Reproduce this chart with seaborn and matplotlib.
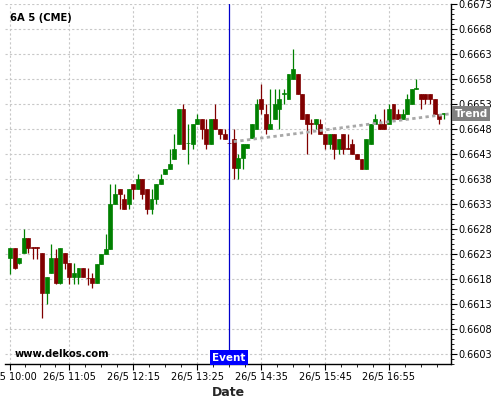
import numpy as np
import pandas as pd
import seaborn as sns
import matplotlib.pyplot as plt
from matplotlib.ticker import FixedLocator, MultipleLocator
from matplotlib.transforms import blended_transform_factory

sns.set_theme(style="white")
plt.rcParams['font.family'] = ['DejaVu Sans']

# 5-minute bars of 6A (CME), 26/5 from 10:00
opens = [0.66221, 0.66241, 0.66212, 0.66232, 0.66261, 0.66243, 0.66243, 0.66232, 0.66152, 0.66192,
         0.66221, 0.66171, 0.66232, 0.66212, 0.66183, 0.66183, 0.66201, 0.66182, 0.66182, 0.66172,
         0.66210, 0.66230, 0.66240, 0.66330, 0.66360, 0.66340, 0.66330, 0.66370, 0.66360, 0.66380,
         0.66360, 0.66320, 0.66340, 0.66370, 0.66390, 0.66400, 0.66420, 0.66450, 0.66520, 0.66452,
         0.66450, 0.66490, 0.66500, 0.66480, 0.66450, 0.66500, 0.66480, 0.66470, 0.66453, 0.66460,
         0.66402, 0.66422, 0.66442, 0.66462, 0.66480, 0.66540, 0.66510, 0.66480, 0.66500, 0.66520,
         0.66551, 0.66541, 0.66580, 0.66590, 0.66551, 0.66510, 0.66492, 0.66491, 0.66490, 0.66470,
         0.66450, 0.66470, 0.66440, 0.66470, 0.66442, 0.66450, 0.66430, 0.66420, 0.66400, 0.66450,
         0.66490, 0.66490, 0.66490, 0.66490, 0.66530, 0.66510, 0.66500, 0.66510, 0.66530, 0.66561,
         0.66550, 0.66550, 0.66550, 0.66540, 0.66510, 0.66511]
highs = [0.66241, 0.66241, 0.66221, 0.66280, 0.66261, 0.66243, 0.66243, 0.66232, 0.66183, 0.66250,
         0.66240, 0.66241, 0.66232, 0.66212, 0.66212, 0.66201, 0.66201, 0.66201, 0.66191, 0.66210,
         0.66230, 0.66270, 0.66370, 0.66370, 0.66360, 0.66350, 0.66360, 0.66370, 0.66390, 0.66380,
         0.66360, 0.66360, 0.66370, 0.66390, 0.66400, 0.66440, 0.66470, 0.66520, 0.66530, 0.66490,
         0.66490, 0.66510, 0.66500, 0.66500, 0.66500, 0.66530, 0.66480, 0.66480, 0.66453, 0.66480,
         0.66431, 0.66450, 0.66450, 0.66490, 0.66540, 0.66570, 0.66530, 0.66560, 0.66560, 0.66560,
         0.66560, 0.66590, 0.66640, 0.66590, 0.66551, 0.66510, 0.66501, 0.66500, 0.66500, 0.66470,
         0.66470, 0.66470, 0.66460, 0.66470, 0.66470, 0.66460, 0.66430, 0.66420, 0.66460, 0.66490,
         0.66510, 0.66500, 0.66520, 0.66530, 0.66530, 0.66520, 0.66520, 0.66550, 0.66560, 0.66580,
         0.66550, 0.66550, 0.66550, 0.66540, 0.66510, 0.66512]
lows = [0.66190, 0.66199, 0.66210, 0.66232, 0.66232, 0.66219, 0.66219, 0.66101, 0.66130, 0.66192,
        0.66169, 0.66169, 0.66200, 0.66169, 0.66169, 0.66169, 0.66183, 0.66167, 0.66161, 0.66172,
        0.66210, 0.66230, 0.66240, 0.66330, 0.66320, 0.66320, 0.66320, 0.66340, 0.66360, 0.66340,
        0.66310, 0.66310, 0.66330, 0.66370, 0.66390, 0.66400, 0.66420, 0.66450, 0.66440, 0.66410,
        0.66440, 0.66490, 0.66460, 0.66440, 0.66450, 0.66480, 0.66460, 0.66460, 0.66452, 0.66380,
        0.66380, 0.66400, 0.66442, 0.66462, 0.66480, 0.66510, 0.66470, 0.66480, 0.66500, 0.66480,
        0.66530, 0.66541, 0.66580, 0.66551, 0.66500, 0.66430, 0.66470, 0.66480, 0.66470, 0.66440,
        0.66440, 0.66420, 0.66430, 0.66430, 0.66440, 0.66430, 0.66420, 0.66400, 0.66400, 0.66450,
        0.66490, 0.66480, 0.66480, 0.66490, 0.66500, 0.66500, 0.66500, 0.66510, 0.66530, 0.66561,
        0.66520, 0.66530, 0.66530, 0.66510, 0.66490, 0.66501]
closes = [0.66241, 0.66201, 0.66221, 0.66261, 0.66241, 0.66241, 0.66241, 0.66152, 0.66183, 0.66221,
          0.66171, 0.66241, 0.66212, 0.66183, 0.66192, 0.66201, 0.66183, 0.66181, 0.66172, 0.66210,
          0.66230, 0.66240, 0.66330, 0.66350, 0.66350, 0.66320, 0.66360, 0.66360, 0.66380, 0.66350,
          0.66320, 0.66340, 0.66370, 0.66380, 0.66400, 0.66410, 0.66440, 0.66520, 0.66440, 0.66453,
          0.66490, 0.66500, 0.66480, 0.66450, 0.66500, 0.66480, 0.66470, 0.66460, 0.66452, 0.66402,
          0.66422, 0.66450, 0.66450, 0.66490, 0.66530, 0.66520, 0.66480, 0.66490, 0.66530, 0.66540,
          0.66552, 0.66590, 0.66600, 0.66551, 0.66500, 0.66490, 0.66491, 0.66500, 0.66470, 0.66450,
          0.66470, 0.66440, 0.66460, 0.66440, 0.66440, 0.66430, 0.66420, 0.66400, 0.66460, 0.66490,
          0.66500, 0.66480, 0.66480, 0.66520, 0.66500, 0.66500, 0.66510, 0.66540, 0.66560, 0.66562,
          0.66540, 0.66540, 0.66540, 0.66510, 0.66500, 0.66512]

start_time = "2015-05-26 10:00"
event_time = "14:00"
trend_times = ["14:05", "18:03"]
trend_prices = [0.66455, 0.66511]
xtick_labels = ["26/5 10:00", "26/5 11:05", "26/5 12:15", "26/5 13:25",
                "26/5 14:35", "26/5 15:45", "26/5 16:55"]
ytick_values = [0.6603, 0.6608, 0.6613, 0.6618, 0.6623, 0.6628, 0.6633,
                0.6638, 0.6643, 0.6648, 0.6653, 0.6658, 0.6663, 0.6668, 0.6673]


def to_min(hhmm):
    h, m = hhmm.split(":")
    return (int(h) - 10) * 60 + int(m)


times = pd.date_range(start_time, periods=len(opens), freq="5min")
df = pd.DataFrame({"t": (times - times[0]).total_seconds() / 60,
                   "open": opens, "high": highs, "low": lows, "close": closes})
df["up"] = df["close"] >= df["open"]
green, red = "#008000", "#800000"
df["color"] = np.where(df["up"], green, red)

fig = plt.figure(figsize=(5, 4), dpi=100)
ax = fig.add_axes([0.01, 0.09, 0.892, 0.90])

ax.vlines(df["t"], df["low"], df["high"], colors=df["color"], linewidth=0.9)
ax.bar(df["t"], (df["close"] - df["open"]).abs(), bottom=df[["open", "close"]].min(axis=1),
       width=4.3, color=df["color"], edgecolor=df["color"], linewidth=0.5)

trend = pd.DataFrame({"t": [to_min(s) for s in trend_times], "p": trend_prices})
sns.lineplot(data=trend, x="t", y="p", ax=ax, color="#a8a8a8", linewidth=2,
             linestyle=(0, (1.2, 1.2)))

ev = to_min(event_time)
ax.axvline(ev, color="#0000cc", linewidth=0.9)

ax.set_xlim(-5.5, 483)
ax.set_ylim(0.66009, 0.66731)

majors = [to_min(s.split(" ")[1]) for s in xtick_labels]
ax.set_xticks(majors, labels=xtick_labels, fontsize=7)
minors = []
for a, b in zip(majors[:-1], majors[1:]):
    minors += list(np.linspace(a, b, 5)[1:-1])
step = (majors[-1] - majors[-2]) / 4
minors += [majors[-1] + step * k for k in range(1, 4)]
ax.xaxis.set_minor_locator(FixedLocator(minors))

ax.yaxis.tick_right()
ax.set_yticks(ytick_values, labels=[f"{v:.4f}" for v in ytick_values], fontsize=7)
ax.yaxis.set_minor_locator(MultipleLocator(0.0001))

ax.tick_params(axis="both", which="major", direction="out", length=4, width=0.8,
               color="black", pad=1.5, labelcolor="black")
ax.tick_params(axis="both", which="minor", direction="out", length=2, width=0.6,
               color="black")
ax.tick_params(axis="x", which="both", bottom=True)
ax.tick_params(axis="y", which="both", right=True, left=False)

ax.grid(True, which="major", color="#c8c8c8", linestyle=(0, (2, 2)), linewidth=0.8)
ax.set_axisbelow(True)
for s in ["left", "top"]:
    ax.spines[s].set_visible(False)
for s in ["right", "bottom"]:
    ax.spines[s].set_color("black")
    ax.spines[s].set_linewidth(1)

ax.set_xlabel("Date", fontsize=9, fontweight="bold", labelpad=3)
ax.set_ylabel("")

ax.text(0.012, 0.975, "6A 5 (CME)", transform=ax.transAxes, fontsize=7.2,
        fontweight="bold", va="top", ha="left", color="black")
ax.text(0.022, 0.015, "www.delkos.com", transform=ax.transAxes, fontsize=7.2,
        fontweight="bold", va="bottom", ha="left", color="black")

bt = blended_transform_factory(ax.transData, ax.transAxes)
ax.text(ev, 0.004, "Event", transform=bt, fontsize=7.5, fontweight="bold", color="white",
        ha="center", va="bottom",
        bbox=dict(boxstyle="square,pad=0.25", facecolor="#0000ff", edgecolor="none"))

bt2 = blended_transform_factory(ax.transAxes, ax.transData)
ax.text(1.008, trend_prices[-1], "Trend", transform=bt2, fontsize=7.5, fontweight="bold",
        color="white", ha="left", va="center", clip_on=False,
        bbox=dict(boxstyle="square,pad=0.25", facecolor="#808080", edgecolor="none"))

fig.savefig("out.png", dpi=100)
